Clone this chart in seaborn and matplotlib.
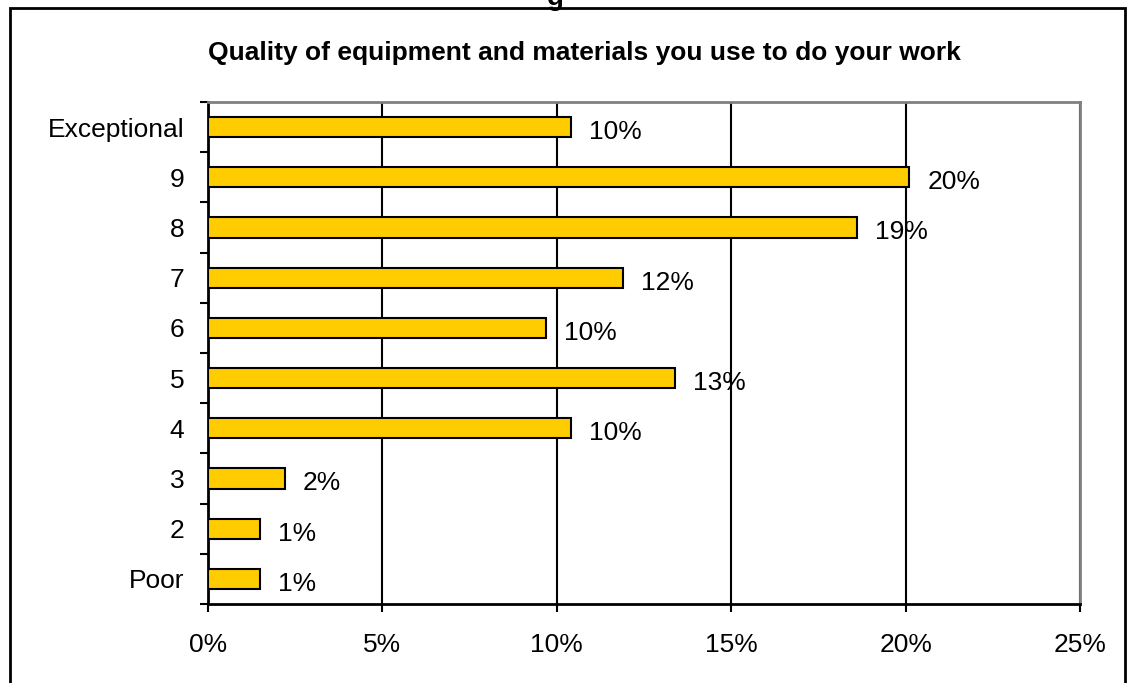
import pandas as pd
import seaborn as sns
import matplotlib.pyplot as plt
from matplotlib.ticker import PercentFormatter
from matplotlib.patches import Rectangle

# Ratings, top to bottom as shown
ratings = ["Exceptional", "9", "8", "7", "6", "5", "4", "3", "2", "Poor"]
shares = [10.4, 20.1, 18.6, 11.9, 9.7, 13.4, 10.4, 2.2, 1.5, 1.5]
labels = ["10%", "20%", "19%", "12%", "10%", "13%", "10%", "2%", "1%", "1%"]
x_ticks = [0, 5, 10, 15, 20, 25]

df = pd.DataFrame({"rating": ratings, "share": shares})

sns.set_theme(style="white")
plt.rcParams["font.family"] = ["Liberation Sans", "DejaVu Sans"]
plt.rcParams["text.color"] = "black"
plt.rcParams["xtick.color"] = "black"
plt.rcParams["ytick.color"] = "black"

fig = plt.figure(figsize=(11.35, 6.83), dpi=100)
ax = fig.add_axes([208 / 1135, 1 - 604 / 683, (1080 - 208) / 1135, (604 - 102) / 683])

sns.barplot(data=df, x="share", y="rating", order=ratings, orient="h",
            color="#FFCC00", edgecolor="black", linewidth=1.5, width=0.4,
            saturation=1, ax=ax, zorder=3)

ax.set_xlim(0, 25)
ax.set_ylim(len(ratings) - 0.5, -0.5)
ax.set_xticks(x_ticks)
ax.xaxis.set_major_formatter(PercentFormatter(decimals=0))
ax.grid(axis="x", color="black", linewidth=1.5, zorder=0)
ax.set_axisbelow(True)

# y ticks sit between categories, labels on the category centres
ax.set_yticks([i - 0.5 for i in range(len(ratings) + 1)], minor=False)
ax.set_yticklabels([])
ax.set_yticks(range(len(ratings)), minor=True)
ax.set_yticklabels(ratings, minor=True)
ax.tick_params(axis="y", which="minor", length=0, pad=17, labelsize=19)
ax.tick_params(axis="y", which="major", length=6, width=1.5,
               direction="out", left=True)
ax.tick_params(axis="x", length=6, width=1.5, direction="out",
               bottom=True, pad=15, labelsize=19)

ax.set_xlabel("")
ax.set_ylabel("")

for side in ["left", "bottom"]:
    ax.spines[side].set_color("black")
    ax.spines[side].set_linewidth(2)
for side in ["top", "right"]:
    ax.spines[side].set_color("#808080")
    ax.spines[side].set_linewidth(2)

for i, (v, lab) in enumerate(zip(shares, labels)):
    ax.annotate(lab, xy=(v, i), xytext=(13, -3.5), textcoords="offset points",
                ha="left", va="center", fontsize=19, color="black")

fig.text(584 / 1135, 1 - 53 / 683, "Quality of equipment and materials you use to do your work",
         ha="center", va="center", fontsize=19, fontweight="bold")

# clipped heading above the frame
fig.text(555 / 1135, 1 + 2 / 683, "g", ha="center", va="center",
         fontsize=20, fontweight="bold")

# outer frame
fig.patches.append(Rectangle((10 / 1135, -0.02), (1125 - 10) / 1135, 1.02 - 8 / 683,
                             transform=fig.transFigure, fill=False,
                             edgecolor="black", linewidth=2))

fig.savefig("out.png", dpi=100)
